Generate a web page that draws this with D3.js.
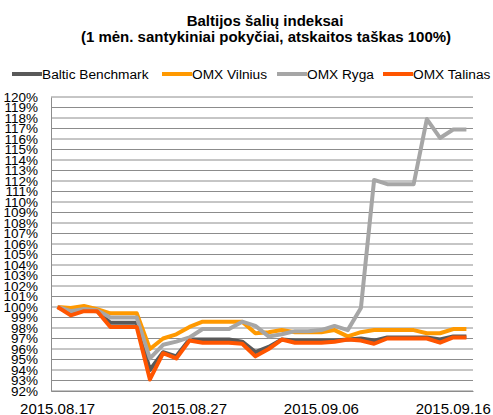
<!DOCTYPE html>
<html>
<head>
<meta charset="utf-8">
<script src="https://cdn.jsdelivr.net/npm/d3@7"></script>
<style>
  body { margin: 0; background: #fff; }
  svg { font-family: "Liberation Sans", Arial, sans-serif; }
</style>
</head>
<body>
<svg id="chart" width="493" height="415"></svg>
<script>
// daily values, weekends carry Friday's close
var dates = ["2015.08.17","2015.08.18","2015.08.19","2015.08.20","2015.08.21","2015.08.22","2015.08.23",
             "2015.08.24","2015.08.25","2015.08.26","2015.08.27","2015.08.28","2015.08.29","2015.08.30",
             "2015.08.31","2015.09.01","2015.09.02","2015.09.03","2015.09.04","2015.09.05","2015.09.06",
             "2015.09.07","2015.09.08","2015.09.09","2015.09.10","2015.09.11","2015.09.12","2015.09.13",
             "2015.09.14","2015.09.15","2015.09.16","2015.09.17"];

var balticBenchmark = [100, 99.4, 99.7, 99.6, 98.5, 98.5, 98.5, 94.0, 95.7, 95.3, 96.9, 96.9, 96.9, 96.9, 96.7, 95.7,
                       96.2, 96.9, 96.8, 96.8, 96.8, 96.8, 96.9, 97.0, 96.8, 97.1, 97.1, 97.1, 97.1, 96.9, 97.2, 97.2];
var omxVilnius = [100, 99.9, 100.1, 99.8, 99.4, 99.4, 99.4, 96.0, 97.0, 97.4, 98.1, 98.6, 98.6, 98.6, 98.6, 97.5,
                  97.6, 97.8, 97.6, 97.6, 97.6, 97.8, 97.2, 97.6, 97.8, 97.8, 97.8, 97.8, 97.5, 97.5, 97.9, 97.9];
var omxRyga = [100, 99.6, 99.8, 99.7, 99.0, 99.0, 99.0, 95.1, 96.4, 96.7, 97.1, 97.9, 97.9, 97.9, 98.6, 98.2,
               97.2, 97.4, 97.7, 97.7, 97.8, 98.2, 97.8, 99.9, 112.1, 111.7, 111.7, 111.7, 117.9, 116.1, 116.9, 116.9];
var omxTalinas = [100, 99.2, 99.6, 99.6, 98.1, 98.1, 98.1, 93.1, 95.6, 95.1, 96.8, 96.6, 96.6, 96.6, 96.5, 95.3,
                  96.0, 96.9, 96.6, 96.6, 96.6, 96.7, 96.9, 96.8, 96.5, 97.0, 97.0, 97.0, 97.0, 96.6, 97.1, 97.1];

var seriesNames = ["Baltic Benchmark", "OMX Vilnius", "OMX Ryga", "OMX Talinas"];
var yTicks = d3.range(92, 121, 1);
var xLabels = ["2015.08.17", "2015.08.27", "2015.09.06", "2015.09.16"];

var series = [
    {name: seriesNames[0], values: balticBenchmark, color: "#595959"},
    {name: seriesNames[1], values: omxVilnius, color: "#ff9900"},
    {name: seriesNames[2], values: omxRyga, color: "#a6a6a6"},
    {name: seriesNames[3], values: omxTalinas, color: "#ff5500"}
];

var svg = d3.select("#chart");

var x = d3.scaleBand().domain(dates).range([51, 473]);
var y = d3.scaleLinear().domain([92, 120]).range([391, 97]);
function cx(d) { return x(d) + x.bandwidth() / 2; }

// title
svg.append("text")
    .attr("x", 265).attr("y", 26)
    .attr("text-anchor", "middle")
    .style("font-size", "15px").style("font-weight", "bold")
    .text("Baltijos šalių indeksai");
svg.append("text")
    .attr("x", 266).attr("y", 42)
    .attr("text-anchor", "middle")
    .style("font-size", "15px").style("font-weight", "bold")
    .text("(1 mėn. santykiniai pokyčiai, atskaitos taškas 100%)");

// legend
var legendX = [12, 162, 277, 383];
var legend = svg.append("g").selectAll("g")
    .data(series).enter().append("g")
    .attr("transform", function(d, i) { return "translate(" + legendX[i] + ",74)"; });
legend.append("line")
    .attr("x1", 0).attr("x2", 30)
    .attr("stroke", function(d) { return d.color; })
    .attr("stroke-width", 4);
legend.append("text")
    .attr("x", 30).attr("y", 5)
    .style("font-size", "13.7px")
    .text(function(d) { return d.name; });

// gridlines
svg.append("g").selectAll("line")
    .data(yTicks).enter().append("line")
    .attr("x1", 51).attr("x2", 473)
    .attr("y1", function(d) { return y(d); })
    .attr("y2", function(d) { return y(d); })
    .attr("stroke", "#8c8c8c")
    .attr("stroke-width", 1);

// y axis
var yAxis = svg.append("g")
    .attr("transform", "translate(51,0)")
    .call(d3.axisLeft(y).tickValues(yTicks).tickSize(0).tickPadding(13)
          .tickFormat(function(d) { return d + "%"; }));
yAxis.select(".domain").attr("stroke", "#8c8c8c");
yAxis.selectAll("text")
    .style("font-size", "13.5px")
    .attr("fill", "#000")
    .attr("font-family", null);

// x axis
var xAxis = svg.append("g")
    .attr("transform", "translate(0,391)")
    .call(d3.axisBottom(x).tickValues(xLabels).tickSize(0).tickPadding(12));
xAxis.select(".domain").attr("stroke", "#8c8c8c");
xAxis.selectAll("text")
    .style("font-size", "15px")
    .attr("fill", "#000")
    .attr("font-family", null);

// lines
var line = d3.line()
    .x(function(d, i) { return cx(dates[i]); })
    .y(function(d) { return y(d); });

svg.append("g").selectAll("path")
    .data(series).enter().append("path")
    .attr("d", function(d) { return line(d.values); })
    .attr("fill", "none")
    .attr("stroke", function(d) { return d.color; })
    .attr("stroke-width", 4)
    .attr("stroke-linejoin", "round");
</script>
</body>
</html>
